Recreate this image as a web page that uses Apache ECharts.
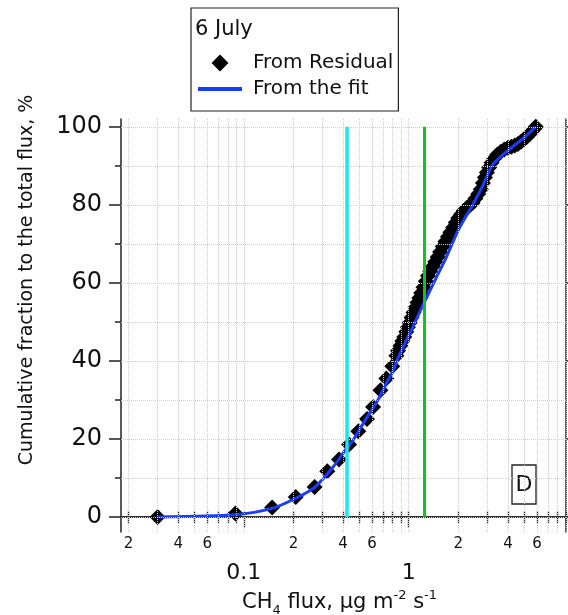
<!DOCTYPE html>
<html><head><meta charset="utf-8">
<script src="https://cdn.jsdelivr.net/npm/echarts@6/dist/echarts.min.js"></script>
<style>html,body{margin:0;padding:0;background:#fff}#c{width:568px;height:615px}</style>
</head><body><div id="c"></div>
<script>
// ---- data ----
const residualX = [0.030,0.089,0.1485,0.2066,0.269,0.321,0.378,0.435,0.495,0.559,0.608,0.674,0.732,0.796,
  0.842,0.862,0.89,0.915,0.94,0.968,0.99,1.015,1.04,1.07,1.10,1.13,1.16,1.19,1.23,1.27,1.31,1.35,1.40,1.45,
  1.50,1.55,1.61,1.67,1.73,1.79,1.86,1.93,2.00,2.08,2.16,2.25,2.34,2.44,2.54,2.64,2.74,2.82,2.90,2.98,3.08,
  3.18,3.30,3.45,3.62,3.80,4.00,4.20,4.40,4.60,4.80,5.00,5.20,5.40,5.60,5.78,5.90];
const residualY = [0,0.9,2.4,5.1,7.7,11.7,14.7,18.6,22.0,25.1,28.2,32.5,35.5,38.6,
  41.3,42.6,43.9,45.1,46.1,47.5,48.6,49.8,51.1,52.4,53.7,55.0,56.1,57.4,58.9,60.4,61.8,63.0,64.2,65.4,
  66.6,67.9,69.3,70.6,71.8,73.0,74.2,75.5,76.6,77.6,78.5,79.2,79.8,80.5,81.6,82.8,84.0,85.6,87.0,88.3,89.6,
  90.8,91.9,92.9,93.6,94.2,94.6,94.9,95.2,95.6,96.2,96.8,97.4,98.1,98.8,99.5,100.0];
const fitX = [0.030,0.089,0.1485,0.2066,0.269,0.348,0.419,0.459,0.505,0.567,0.651,0.732,0.803,0.842,0.925,
  1.0,1.054,1.16,1.247,1.46,1.68,2.02,2.44,2.82,3.22,3.92,4.68,5.2,5.75,5.9];
const fitY = [0,0.6,2.2,4.8,7.6,12.8,17.5,19.6,22.5,26.0,30.0,34.2,37.4,39.8,43.5,
  46.5,48.5,52.3,55.1,61.1,66.3,73.9,79.9,85.0,90.2,93.6,96.2,97.8,99.6,100];
const cyanLineX = [0.419];
const greenLineX = [1.247];
const markerSpanY = [0, 100];
const yMajorTicks = [0,20,40,60,80,100];
const yMinorTicks = [10,30,50,70,90];
const yGridLines = [0,10,20,30,40,50,60,70,80,90,100];
const xMajorTicks = [0.1, 1];
const xMinorTicks = [0.02,0.03,0.04,0.05,0.06,0.07,0.08,0.09,0.2,0.3,0.4,0.5,0.6,0.7,0.8,0.9,2,3,4,5,6,7,8,9];
const xMinorLabels = [0.02,0.04,0.06,0.2,0.4,0.6,2,4,6];
const xGridLines = xMinorTicks.concat(xMajorTicks);
const xRange = [0.018, 9];
const yRange = [-3.85, 102];
const seriesNames = ['From Residual', 'From the fit'];
const legendTitle = '6 July';
const panelLabel = 'D';
const yTitle = 'Cumulative fraction to the total flux, %';

// ---- chart ----
const FONT = 'DejaVu Sans';
const frame = {show:true, lineStyle:{color:'#222', width:1.5}};
const mant = v => String(Math.round(v / Math.pow(10, Math.floor(Math.log10(v) + 1e-9))));
const baseX = {type:'log', logBase:10, min:xRange[0], max:xRange[1], splitLine:{show:false}, minorTick:{show:false}};
const baseY = {type:'value', min:yRange[0], max:yRange[1], splitLine:{show:false}};

const chart = echarts.init(document.getElementById('c'), null, {renderer:'canvas'});
chart.setOption({
  animation:false,
  backgroundColor:'#fff',
  textStyle:{fontFamily:FONT},
  grid:{left:121, right:2, top:119, bottom:83, containLabel:false},
  xAxis:[
    Object.assign({}, baseX, {position:'bottom', axisLine:frame,
      axisTick:{show:true, customValues:xMinorTicks, length:6, lineStyle:{color:'#222', width:1.3}},
      axisLabel:{show:true, customValues:xMinorLabels, formatter:mant, fontSize:15, color:'#111', margin:5, fontFamily:FONT}}),
    Object.assign({}, baseX, {position:'bottom', axisLine:{show:false},
      axisTick:{show:true, customValues:xMajorTicks, length:11, lineStyle:{color:'#222', width:1.3}},
      axisLabel:{show:true, customValues:xMajorTicks, formatter:v => String(v), fontSize:22, color:'#111', margin:30, fontFamily:FONT}}),
    Object.assign({}, baseX, {position:'top', axisLine:frame,
      axisTick:{show:true, customValues:xGridLines, length:6, lineStyle:{color:'#222', width:1.3}},
      axisLabel:{show:false}})
  ],
  yAxis:[
    Object.assign({}, baseY, {position:'left', axisLine:frame,
      axisTick:{show:true, customValues:yMajorTicks, length:12, lineStyle:{color:'#222', width:1.5}},
      axisLabel:{show:true, customValues:yMajorTicks, fontSize:24, color:'#111', margin:19, fontFamily:FONT}}),
    Object.assign({}, baseY, {position:'left', axisLine:{show:false},
      axisTick:{show:true, customValues:yMinorTicks, length:6, lineStyle:{color:'#222', width:1.5}},
      axisLabel:{show:false}}),
    Object.assign({}, baseY, {position:'right', axisLine:frame,
      axisTick:{show:true, customValues:yMajorTicks, length:12, lineStyle:{color:'#222', width:1.5}},
      axisLabel:{show:false}})
  ],
  legend:{
    data:[
      {name:seriesNames[0], icon:'path://M8,0L16,8L8,16L0,8Z'},
      {name:seriesNames[1], icon:'path://M0,0L44,0L44,4L0,4Z'}
    ],
    orient:'vertical', left:191, top:8, symbolKeepAspect:true,
    padding:[45,5,12,7], itemGap:6, itemWidth:44, itemHeight:17,
    borderColor:'#222', borderWidth:1.2, backgroundColor:'#fff', z:5,
    textStyle:{fontSize:20, color:'#111', fontFamily:FONT, padding:[0,0,0,6]}
  },
  graphic:[
    {type:'text', x:195, y:30, z:100, style:{text:legendTitle, font:'21px "DejaVu Sans"', fill:'#111', verticalAlign:'middle'}},
    {type:'text', x:27, y:280, rotation:Math.PI/2, style:{text:yTitle, font:'19px "DejaVu Sans"', fill:'#111', align:'center', verticalAlign:'middle'}},
    {type:'text', x:242, y:603, style:{
      text:'{n|CH}{sub|4}{n| flux, μg m}{sup|-2}{n| s}{sup|-1}', verticalAlign:'middle', fill:'#111',
      rich:{
        n:{fontSize:21, fontFamily:FONT, lineHeight:28, fill:'#111'},
        sub:{fontSize:13, fontFamily:FONT, lineHeight:12, verticalAlign:'bottom', fill:'#111'},
        sup:{fontSize:13, fontFamily:FONT, lineHeight:10, verticalAlign:'top', fill:'#111'}
      }}},
    {type:'rect', shape:{x:512, y:465, width:24, height:39}, style:{fill:'#fff', stroke:'#222', lineWidth:1.3}},
    {type:'text', x:524, y:485, style:{text:panelLabel, font:'22px "DejaVu Sans"', fill:'#111', align:'center', verticalAlign:'middle'}}
  ],
  series:[
    {type:'line', name:'grid', data:[], xAxisIndex:0, yAxisIndex:0, silent:true, z:1,
      markLine:{silent:true, symbol:'none', label:{show:false}, animation:false,
        lineStyle:{color:'#cdcdcd', type:'dotted', width:1},
        data: xGridLines.map(v => ({xAxis:v})).concat(yGridLines.map(v => ({yAxis:v})))}},
    {type:'line', name:'markers', data:[], xAxisIndex:0, yAxisIndex:0, silent:true, z:2,
      markLine:{silent:true, symbol:'none', label:{show:false}, animation:false,
        data:[
          [{coord:[cyanLineX[0], markerSpanY[0]], lineStyle:{color:'#1ee6ee', width:3.5, type:'solid'}}, {coord:[cyanLineX[0], markerSpanY[1]]}],
          [{coord:[greenLineX[0], markerSpanY[0]], lineStyle:{color:'#12c41e', width:3, type:'solid'}}, {coord:[greenLineX[0], markerSpanY[1]]}]
        ]}},
    {type:'scatter', name:seriesNames[0], xAxisIndex:0, yAxisIndex:0, z:3,
      symbol:'diamond', symbolSize:16, itemStyle:{color:'#000', opacity:1},
      emphasis:{disabled:true},
      data: residualX.map((x, i) => [x, residualY[i]])},
    {type:'line', name:seriesNames[1], xAxisIndex:0, yAxisIndex:0, z:4,
      showSymbol:false, symbol:'none', smooth:0.25,
      lineStyle:{color:'#1a3cff', width:3}, itemStyle:{color:'#1a3cff'},
      data: fitX.map((x, i) => [x, fitY[i]])}
  ]
});
</script></body></html>
